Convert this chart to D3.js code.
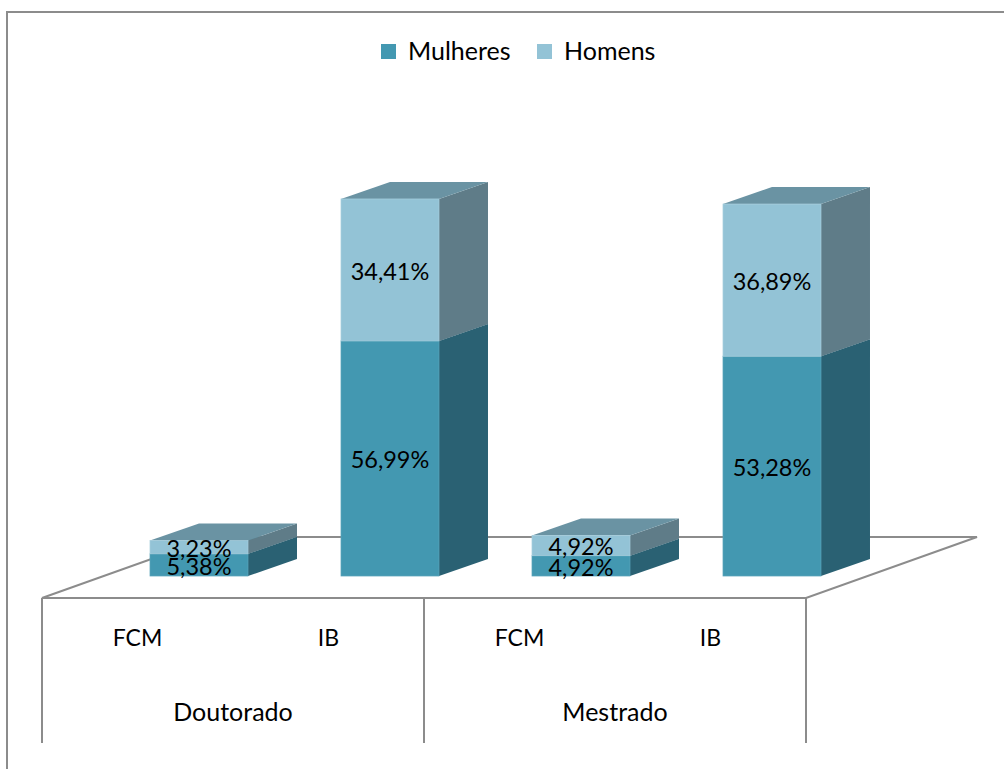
<!DOCTYPE html>
<html>
<head>
<meta charset="utf-8">
<script src="https://cdn.jsdelivr.net/npm/d3@7"></script>
<style>
  html, body { margin: 0; padding: 0; background: #fff; }
  svg { display: block; }
  text { font-family: Lato, "Open Sans", sans-serif; fill: #000; }
</style>
</head>
<body>
<div id="chart"></div>
<script>
var programs = ['Doutorado', 'Mestrado'];
var categories = ['FCM', 'IB', 'FCM', 'IB'];
var mulheres = [5.38, 56.99, 4.92, 53.28];
var homens = [3.23, 34.41, 4.92, 36.89];
var seriesNames = ['Mulheres', 'Homens'];

var width = 1004, height = 769;
var axisColor = '#8c8c8c';
var valueFont = 23.5, categoryFont = 23, wordFont = 25;

var colors = {
    Mulheres: { front: '#4398b1', side: '#2a6173', top: '#4f7f90', edge: '#58a3b9' },
    Homens: { front: '#93c3d6', side: '#5f7c88', top: '#6a93a3', edge: '#a6cddc' }
};

// floor of the 3d box, in pixels
var floor = { left: 42, right: 806, front: 598, bottom: 743, dx: 171, dy: -61 };
var depth = { dx: 49, dy: -17 };
var barShift = 61.5;

var rows = categories.map(function(c, i) {
    return { key: i, category: c, Mulheres: mulheres[i], Homens: homens[i] };
});

var x = d3.scaleBand()
    .domain(d3.range(categories.length))
    .range([floor.left, floor.right])
    .paddingInner(0.487)
    .paddingOuter(0.2435);

var xLabels = d3.scaleBand()
    .domain(d3.range(categories.length))
    .range([floor.left, floor.right]);

var xGroups = d3.scaleBand()
    .domain(programs)
    .range([floor.left, floor.right]);

var y = d3.scaleLinear().domain([0, 100]).range([576, 163.5]);

var stacked = d3.stack().keys(seriesNames)(rows);
var pct = function(v) { return v.toFixed(2).replace('.', ',') + '%'; };

var svg = d3.select('#chart').append('svg')
    .attr('width', width)
    .attr('height', height);

// outer frame, only top and left show up in the picture
svg.append('path')
    .attr('d', 'M1004,12H7V769')
    .attr('fill', 'none')
    .attr('stroke', axisColor)
    .attr('stroke-width', 2);

// floor outline
svg.append('path')
    .attr('d', 'M' + floor.left + ',' + floor.front +
        'L' + (floor.left + floor.dx) + ',' + (floor.front + floor.dy) +
        'H' + (floor.right + floor.dx) +
        'L' + floor.right + ',' + floor.front + 'Z')
    .attr('fill', 'none')
    .attr('stroke', axisColor)
    .attr('stroke-width', 2);

// group separators
svg.selectAll('line.sep')
    .data([floor.left, xGroups(programs[1]), floor.right])
    .enter().append('line')
    .attr('class', 'sep')
    .attr('x1', function(d) { return d; })
    .attr('x2', function(d) { return d; })
    .attr('y1', floor.front)
    .attr('y2', floor.bottom)
    .attr('stroke', axisColor)
    .attr('stroke-width', 2);

var poly = function(pts) { return 'M' + pts.join('L') + 'Z'; };

stacked.forEach(function(s) {
    var c = colors[s.key];
    var g = svg.append('g').attr('class', 'series-' + s.key);

    s.forEach(function(d) {
        var x0 = x(d.data.key) + barShift;
        var x1 = x0 + x.bandwidth();
        var yb = y(d[0]), yt = y(d[1]);

        g.append('path')
            .attr('d', poly([[x1, yb], [x1 + depth.dx, yb + depth.dy], [x1 + depth.dx, yt + depth.dy], [x1, yt]]))
            .attr('fill', c.side);
        g.append('path')
            .attr('d', poly([[x0, yt], [x1, yt], [x1 + depth.dx, yt + depth.dy], [x0 + depth.dx, yt + depth.dy]]))
            .attr('fill', c.top);
        g.append('rect')
            .attr('x', x0)
            .attr('y', yt)
            .attr('width', x1 - x0)
            .attr('height', yb - yt)
            .attr('fill', c.front)
            .attr('stroke', c.edge)
            .attr('stroke-width', 0.75);
    });
});

// data labels on the front faces
stacked.forEach(function(s) {
    svg.selectAll('text.val-' + s.key)
        .data(s)
        .enter().append('text')
        .attr('class', 'val-' + s.key)
        .attr('x', function(d) { return x(d.data.key) + barShift + x.bandwidth() / 2; })
        .attr('y', function(d) { return (y(d[0]) + y(d[1])) / 2 + 1.5; })
        .attr('dy', '0.35em')
        .attr('text-anchor', 'middle')
        .style('font-size', valueFont + 'px')
        .text(function(d) { return pct(d[1] - d[0]); });
});

// category labels
var catAxis = d3.axisBottom(xLabels)
    .tickSize(0)
    .tickPadding(0)
    .tickFormat(function(i) { return categories[i]; });

svg.append('g')
    .attr('transform', 'translate(0,630)')
    .call(catAxis)
    .call(function(g) { g.select('.domain').remove(); })
    .selectAll('text')
    .style('font-size', categoryFont + 'px');

// program labels
var groupAxis = d3.axisBottom(xGroups)
    .tickSize(0)
    .tickPadding(0);

svg.append('g')
    .attr('transform', 'translate(0,703)')
    .call(groupAxis)
    .call(function(g) { g.select('.domain').remove(); })
    .selectAll('text')
    .style('font-size', wordFont + 'px');

// legend
var legendX = d3.scaleOrdinal().domain(seriesNames).range([381, 537]);
var legend = svg.selectAll('g.legend')
    .data(seriesNames)
    .enter().append('g')
    .attr('class', 'legend')
    .attr('transform', function(d) { return 'translate(' + legendX(d) + ',44)'; });

legend.append('rect')
    .attr('width', 15)
    .attr('height', 15)
    .attr('fill', function(d) { return colors[d].front; });

legend.append('text')
    .attr('x', 27)
    .attr('y', 16)
    .style('font-size', wordFont + 'px')
    .text(function(d) { return d; });
</script>
</body>
</html>
